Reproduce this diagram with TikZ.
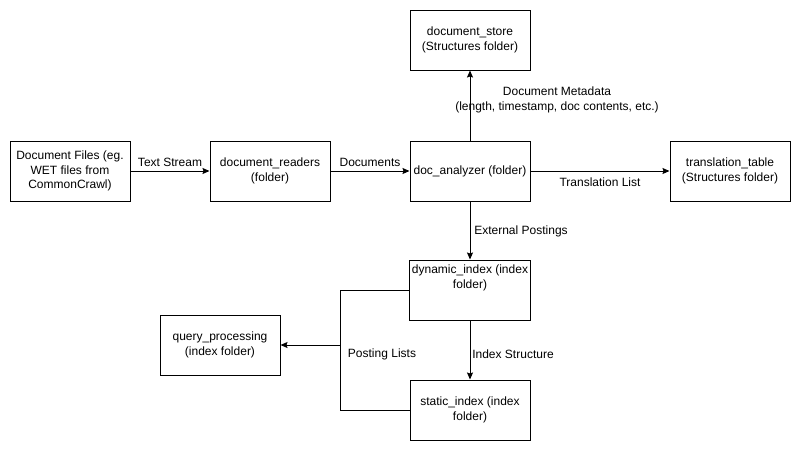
\documentclass[tikz,border=0pt]{standalone}
\usepackage{fontspec}
\setmainfont{Liberation Sans}
\usetikzlibrary{arrows.meta}
\begin{document}
\begin{tikzpicture}[x=1pt,y=-1pt,
  box/.style={draw,line width=1pt,minimum width=120pt,minimum height=60pt,align=center,inner sep=2pt,font=\fontsize{12}{14.5}\selectfont},
  lbl/.style={align=center,font=\fontsize{12}{14.5}\selectfont,inner sep=1pt},
  conn/.style={line width=1pt,-{Stealth[length=7pt,width=6pt,inset=1pt]}},
  plain/.style={line width=1pt}]
\useasboundingbox (0,0) rectangle (801,451);
\node[box] (files) at (70,171) {Document Files (eg.\\WET files from\\CommonCrawl)};
\node[box] (readers) at (270,171) {document\_readers\\(folder)};
\node[box] (analyzer) at (470,171) {doc\_analyzer (folder)};
\node[box] (trans) at (730,171) {translation\_table\\(Structures folder)};
\node[box] (store) at (470,40) {document\_store\\(Structures folder)};
\node[box] (dyn) at (470,290) {dynamic\_index (index\\folder)\\[12pt]};
\node[box] (stat) at (470,410) {static\_index (index\\folder)};
\node[box] (query) at (220,345) {query\_processing\\(index folder)};
\coordinate (j) at (340,345);
\draw[conn] (files) -- node[lbl,above=3pt] {Text Stream} (readers);
\draw[conn] (readers) -- node[lbl,above=3pt] {Documents} (analyzer);
\draw[conn] (analyzer) -- (store);
\node[lbl] (meta) at (557,100) {Document Metadata\\(length, timestamp, doc contents, etc.)};
\draw[conn] (analyzer) -- (trans);
\node[lbl] (tl) at (600,182) {Translation List};
\draw[conn] (analyzer) -- (dyn);
\node[lbl] (ext) at (521,231) {External Postings};
\draw[conn] (dyn) -- (stat);
\node[lbl] (is) at (513,354) {Index Structure};
\draw[plain] (dyn.west) -| (j);
\draw[plain] (stat.west) -| (j);
\draw[conn] (j) -- (query);
\node[lbl] (pl) at (382,354) {Posting Lists};
\end{tikzpicture}
\end{document}
